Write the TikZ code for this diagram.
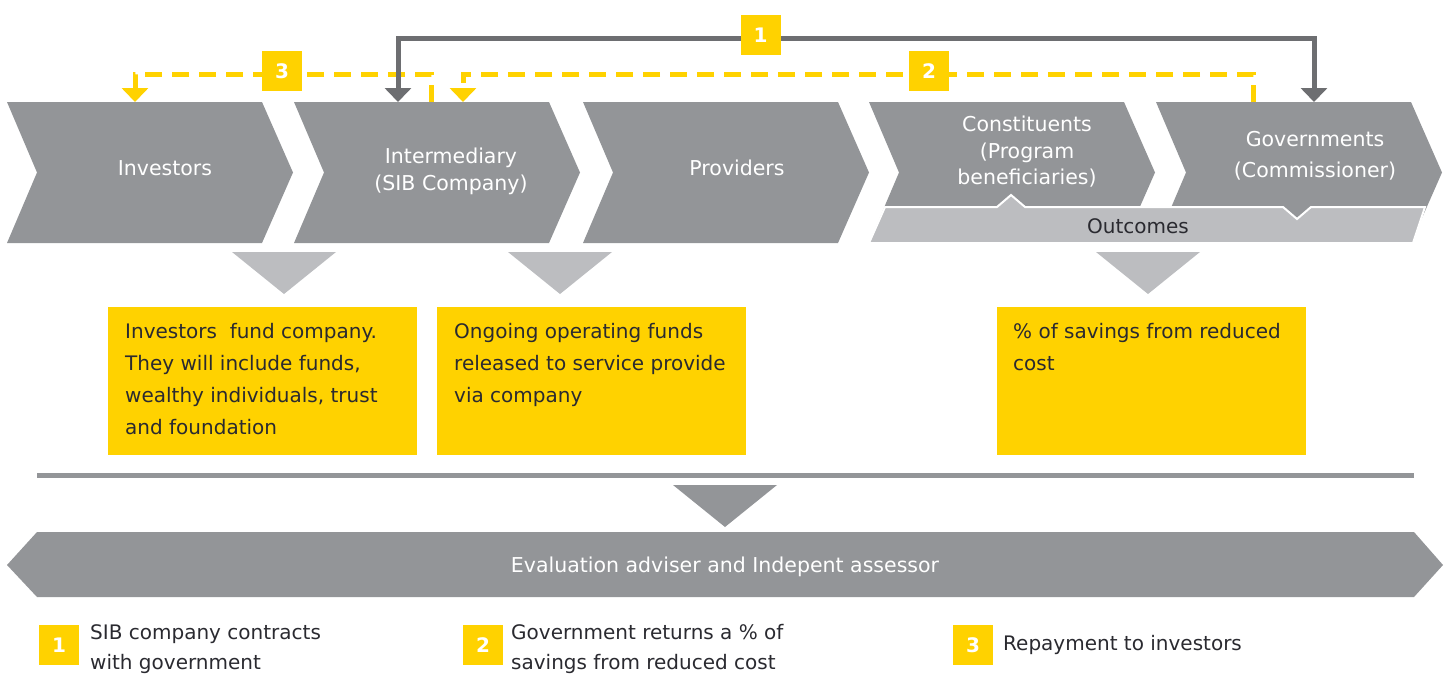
\documentclass[tikz,border=0pt]{standalone}
\usepackage{fontspec}
\setmainfont{DejaVu Sans}
\usetikzlibrary{arrows.meta}
\definecolor{chev}{HTML}{939598}
\definecolor{lgrey}{HTML}{BCBDC0}
\definecolor{dgrey}{HTML}{6D6E71}
\definecolor{eyy}{HTML}{FFD200}
\definecolor{txt}{HTML}{2A2A30}
\begin{document}
\begin{tikzpicture}[x=1pt,y=-1pt,
  chevfill/.style={fill=chev},
  chevtext/.style={text=white,align=center,inner sep=0pt},
  ybox/.style={fill=eyy,minimum width=309pt,minimum height=148pt,inner sep=0pt,anchor=north west},
  ytext/.style={anchor=north west,align=left,inner sep=0pt,text=txt,font=\fontsize{20}{32}\selectfont},
  numbox/.style={fill=eyy,minimum width=40pt,minimum height=40pt,inner sep=0pt,text=white,font=\fontsize{20}{24}\selectfont\bfseries},
  legtext/.style={anchor=north west,align=left,inner sep=0pt,text=txt,font=\fontsize{20}{30}\selectfont},
  yline/.style={draw=eyy,line width=5pt,dash pattern=on 17pt off 10pt},
  dline/.style={draw=dgrey,line width=5pt},
  tip/.style={-{Triangle[width=26pt,length=14pt]}},
  ltri/.style={fill=lgrey},
  font=\fontsize{20.5}{27}\selectfont]
\useasboundingbox (0,0) rectangle (1451,675);
\clip (0,0) rectangle (1451,675);

% chevrons
\foreach \L in {7,294,583,869,1156}{
  \fill[chevfill] (\L,102) -- ++(255,0) -- ++(31,70.5) -- ++(-31,70.5) -- ++(-255,0) -- ++(30,-70.5) -- cycle;
}
% outcomes bar
\filldraw[fill=lgrey,draw=white,line width=2pt,line join=miter]
  (869,243) -- (885,207) -- (997,207) -- (1011,195) -- (1025,207) -- (1283,207) -- (1297,219) -- (1311,207) -- (1425,207) -- (1413,243) -- cycle;
\node[anchor=base,inner sep=0pt,text=txt,font=\fontsize{20}{24}\selectfont] (outc) at (1138,233) {Outcomes};

% chevron labels
\node[chevtext,anchor=base] (inv) at (165,175) {Investors};
\node[chevtext,font=\fontsize{20.5}{27}\selectfont] (intm) at (451,171) {Intermediary\\(SIB Company)};
\node[chevtext,anchor=base] (prov) at (737,175) {Providers};
\node[chevtext,font=\fontsize{20.5}{26.5}\selectfont] (cons) at (1027,152) {Constituents\\(Program\\beneficiaries)};
\node[chevtext,font=\fontsize{20.5}{31}\selectfont] (gov) at (1315,156) {Governments\\(Commissioner)};

% attachment points
\coordinate (invA) at (135,102);
\coordinate (intA) at (398,102);
\coordinate (intB) at (431,102);
\coordinate (intC) at (463,102);
\coordinate (govB) at (1253,102);
\coordinate (govA) at (1314,102);
\coordinate (lvl1) at (0,38);
\coordinate (lvl2) at (0,74);

% yellow dashed connectors
\draw[yline,tip] (intB) -- (intB |- lvl2) -| (invA);
\draw[yline,tip] (govB) -- (govB |- lvl2) -| (intC);
% dark connector
\draw[dline,{Triangle[width=26pt,length=14pt]}-{Triangle[width=26pt,length=14pt]}] (intA) -- (intA |- lvl1) -| (govA);

% number labels on connectors
\node[numbox] (n1) at (760.5,35) {1};
\node[numbox] (n2) at (929,71) {2};
\node[numbox] (n3) at (282,71) {3};

% light down triangles
\fill[ltri] (232,252) -- (336,252) -- (284,294) -- cycle;
\fill[ltri] (508,252) -- (612,252) -- (560,294) -- cycle;
\fill[ltri] (1096,252) -- (1200,252) -- (1148,294) -- cycle;

% yellow boxes
\node[ybox] (b1) at (108,307) {};
\node[ybox] (b2) at (437,307) {};
\node[ybox] (b3) at (997,307) {};
\node[ytext] (t1) at (125,323) {Investors~ fund company.\\They will include funds,\\wealthy individuals, trust\\and foundation};
\node[ytext] (t2) at (454,323) {Ongoing operating funds\\released to service provide\\via company};
\node[ytext] (t3) at (1013,323) {\% of savings from reduced\\cost};

% rule and big triangle
\draw[chev,line width=5pt] (37,475) -- (1414,475);
\fill[chev] (673,485) -- (777,485) -- (725,527) -- cycle;

% evaluation bar
\fill[chev] (7,565) -- (37,532) -- (1414,532) -- (1443,565) -- (1414,597) -- (37,597) -- cycle;
\node[anchor=base,inner sep=0pt,text=white,font=\fontsize{20.5}{24}\selectfont] (eval) at (725,572) {Evaluation adviser and Indepent assessor};

% legend
\node[numbox] (l1) at (59,645) {1};
\node[numbox] (l2) at (483,645) {2};
\node[numbox] (l3) at (973,645) {3};
\node[legtext] (lt1) at (90,624) {SIB company contracts\\with government};
\node[legtext] (lt2) at (511,624) {Government returns a \% of\\savings from reduced cost};
\node[legtext] (lt3) at (1003,635) {Repayment to investors};
\end{tikzpicture}
\end{document}
